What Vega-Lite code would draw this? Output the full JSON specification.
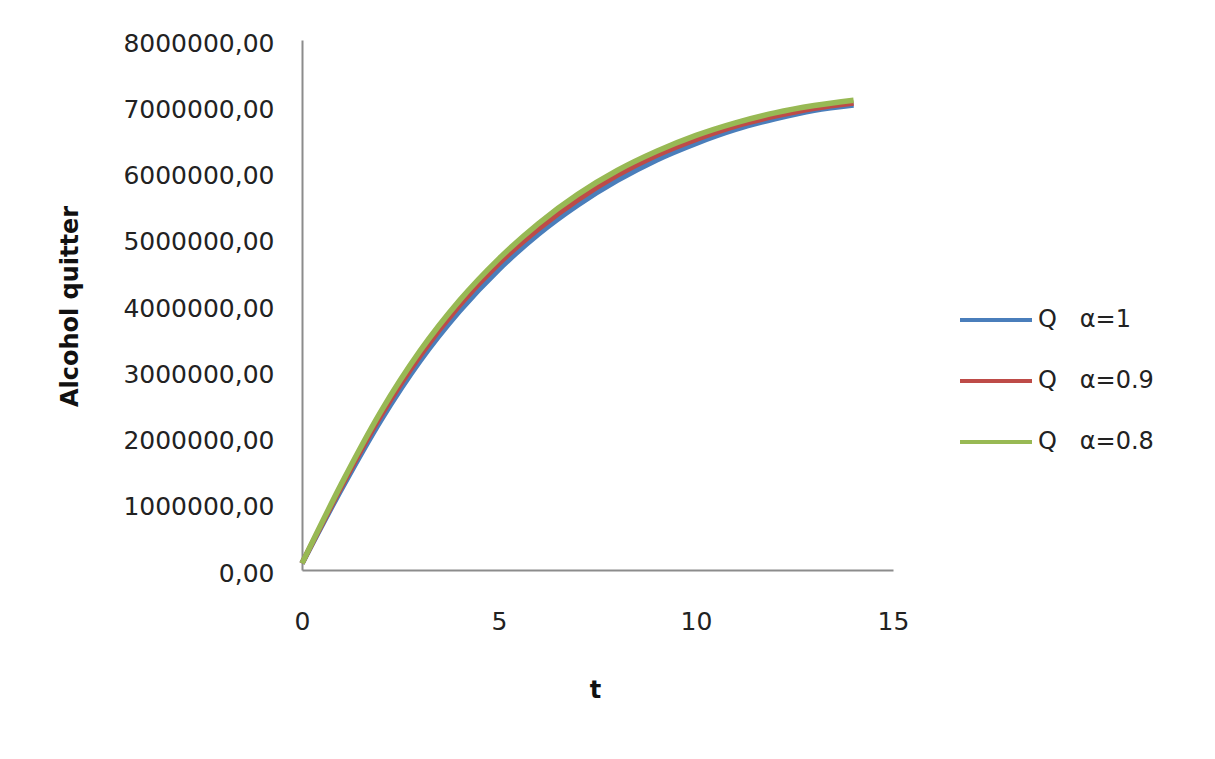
{
  "$schema": "https://vega.github.io/schema/vega-lite/v6.json",
  "width": 591,
  "height": 530,
  "autosize": {"type": "none"},
  "padding": {"left": 302, "top": 40, "right": 322, "bottom": 189},
  "background": "white",
  "config": {
    "view": {"stroke": null},
    "font": "DejaVu Sans"
  },
  "data": {
    "values": [
      {"t": 0, "Q": 100000, "series": "Q\u00a0\u00a0\u00a0α=1"},
      {"t": 1, "Q": 1220000, "series": "Q\u00a0\u00a0\u00a0α=1"},
      {"t": 2, "Q": 2260000, "series": "Q\u00a0\u00a0\u00a0α=1"},
      {"t": 3, "Q": 3160000, "series": "Q\u00a0\u00a0\u00a0α=1"},
      {"t": 4, "Q": 3910000, "series": "Q\u00a0\u00a0\u00a0α=1"},
      {"t": 5, "Q": 4540000, "series": "Q\u00a0\u00a0\u00a0α=1"},
      {"t": 6, "Q": 5070000, "series": "Q\u00a0\u00a0\u00a0α=1"},
      {"t": 7, "Q": 5510000, "series": "Q\u00a0\u00a0\u00a0α=1"},
      {"t": 8, "Q": 5880000, "series": "Q\u00a0\u00a0\u00a0α=1"},
      {"t": 9, "Q": 6190000, "series": "Q\u00a0\u00a0\u00a0α=1"},
      {"t": 10, "Q": 6440000, "series": "Q\u00a0\u00a0\u00a0α=1"},
      {"t": 11, "Q": 6650000, "series": "Q\u00a0\u00a0\u00a0α=1"},
      {"t": 12, "Q": 6810000, "series": "Q\u00a0\u00a0\u00a0α=1"},
      {"t": 13, "Q": 6940000, "series": "Q\u00a0\u00a0\u00a0α=1"},
      {"t": 14, "Q": 7020000, "series": "Q\u00a0\u00a0\u00a0α=1"},
      {"t": 0, "Q": 100000, "series": "Q\u00a0\u00a0\u00a0α=0.9"},
      {"t": 1, "Q": 1260000, "series": "Q\u00a0\u00a0\u00a0α=0.9"},
      {"t": 2, "Q": 2330000, "series": "Q\u00a0\u00a0\u00a0α=0.9"},
      {"t": 3, "Q": 3240000, "series": "Q\u00a0\u00a0\u00a0α=0.9"},
      {"t": 4, "Q": 4000000, "series": "Q\u00a0\u00a0\u00a0α=0.9"},
      {"t": 5, "Q": 4630000, "series": "Q\u00a0\u00a0\u00a0α=0.9"},
      {"t": 6, "Q": 5150000, "series": "Q\u00a0\u00a0\u00a0α=0.9"},
      {"t": 7, "Q": 5590000, "series": "Q\u00a0\u00a0\u00a0α=0.9"},
      {"t": 8, "Q": 5960000, "series": "Q\u00a0\u00a0\u00a0α=0.9"},
      {"t": 9, "Q": 6260000, "series": "Q\u00a0\u00a0\u00a0α=0.9"},
      {"t": 10, "Q": 6500000, "series": "Q\u00a0\u00a0\u00a0α=0.9"},
      {"t": 11, "Q": 6700000, "series": "Q\u00a0\u00a0\u00a0α=0.9"},
      {"t": 12, "Q": 6850000, "series": "Q\u00a0\u00a0\u00a0α=0.9"},
      {"t": 13, "Q": 6970000, "series": "Q\u00a0\u00a0\u00a0α=0.9"},
      {"t": 14, "Q": 7050000, "series": "Q\u00a0\u00a0\u00a0α=0.9"},
      {"t": 0, "Q": 100000, "series": "Q\u00a0\u00a0\u00a0α=0.8"},
      {"t": 1, "Q": 1300000, "series": "Q\u00a0\u00a0\u00a0α=0.8"},
      {"t": 2, "Q": 2390000, "series": "Q\u00a0\u00a0\u00a0α=0.8"},
      {"t": 3, "Q": 3310000, "series": "Q\u00a0\u00a0\u00a0α=0.8"},
      {"t": 4, "Q": 4070000, "series": "Q\u00a0\u00a0\u00a0α=0.8"},
      {"t": 5, "Q": 4700000, "series": "Q\u00a0\u00a0\u00a0α=0.8"},
      {"t": 6, "Q": 5230000, "series": "Q\u00a0\u00a0\u00a0α=0.8"},
      {"t": 7, "Q": 5670000, "series": "Q\u00a0\u00a0\u00a0α=0.8"},
      {"t": 8, "Q": 6030000, "series": "Q\u00a0\u00a0\u00a0α=0.8"},
      {"t": 9, "Q": 6320000, "series": "Q\u00a0\u00a0\u00a0α=0.8"},
      {"t": 10, "Q": 6560000, "series": "Q\u00a0\u00a0\u00a0α=0.8"},
      {"t": 11, "Q": 6750000, "series": "Q\u00a0\u00a0\u00a0α=0.8"},
      {"t": 12, "Q": 6900000, "series": "Q\u00a0\u00a0\u00a0α=0.8"},
      {"t": 13, "Q": 7010000, "series": "Q\u00a0\u00a0\u00a0α=0.8"},
      {"t": 14, "Q": 7090000, "series": "Q\u00a0\u00a0\u00a0α=0.8"}
    ]
  },
  "mark": {"type": "line", "strokeWidth": 5.5, "interpolate": "monotone"},
  "encoding": {
    "x": {
      "field": "t",
      "type": "quantitative",
      "scale": {"domain": [0, 15], "nice": false},
      "axis": {
        "title": "t",
        "values": [0, 5, 10, 15],
        "grid": false,
        "ticks": false,
        "tickSize": 0,
        "domainColor": "#8c8c8c",
        "domainWidth": 2,
        "labelFont": "DejaVu Sans",
        "labelFontSize": 25,
        "labelColor": "#222222",
        "labelPadding": 39,
        "labelFlush": false,
        "titleFont": "DejaVu Sans",
        "titleFontSize": 24,
        "titleFontWeight": "bold",
        "titleColor": "#111111",
        "titleX": 293,
        "titleY": 120,
        "titleBaseline": "middle"
      }
    },
    "y": {
      "field": "Q",
      "type": "quantitative",
      "scale": {"domain": [0, 8000000], "nice": false},
      "axis": {
        "title": "Alcohol quitter",
        "values": [0, 1000000, 2000000, 3000000, 4000000, 5000000, 6000000, 7000000, 8000000],
        "labelExpr": "replace(format(datum.value, '.2f'), '.', ',')",
        "grid": false,
        "ticks": false,
        "tickSize": 0,
        "domainColor": "#8c8c8c",
        "domainWidth": 2,
        "labelFont": "DejaVu Sans",
        "labelFontSize": 25,
        "labelColor": "#222222",
        "labelPadding": 28,
        "labelOffset": 3,
        "labelFlush": false,
        "titleFont": "DejaVu Sans",
        "titleFontSize": 24,
        "titleFontWeight": "bold",
        "titleColor": "#111111",
        "titleAngle": -90,
        "titleX": -232,
        "titleY": 266,
        "titleAlign": "center",
        "titleBaseline": "middle"
      }
    },
    "color": {
      "field": "series",
      "type": "nominal",
      "scale": {
        "domain": ["Q\u00a0\u00a0\u00a0α=1", "Q\u00a0\u00a0\u00a0α=0.9", "Q\u00a0\u00a0\u00a0α=0.8"],
        "range": ["#4a7ebb", "#be4b48", "#98b954"]
      },
      "legend": {
        "title": null,
        "orient": "none",
        "legendX": 656,
        "legendY": 242,
        "padding": 0,
        "symbolType": "stroke",
        "symbolSize": 5184,
        "symbolStrokeWidth": 4,
        "labelFont": "DejaVu Sans",
        "labelFontSize": 24,
        "labelColor": "#222222",
        "labelOffset": 4,
        "rowPadding": 11
      }
    },
    "order": {"field": "t", "type": "quantitative"}
  }
}
